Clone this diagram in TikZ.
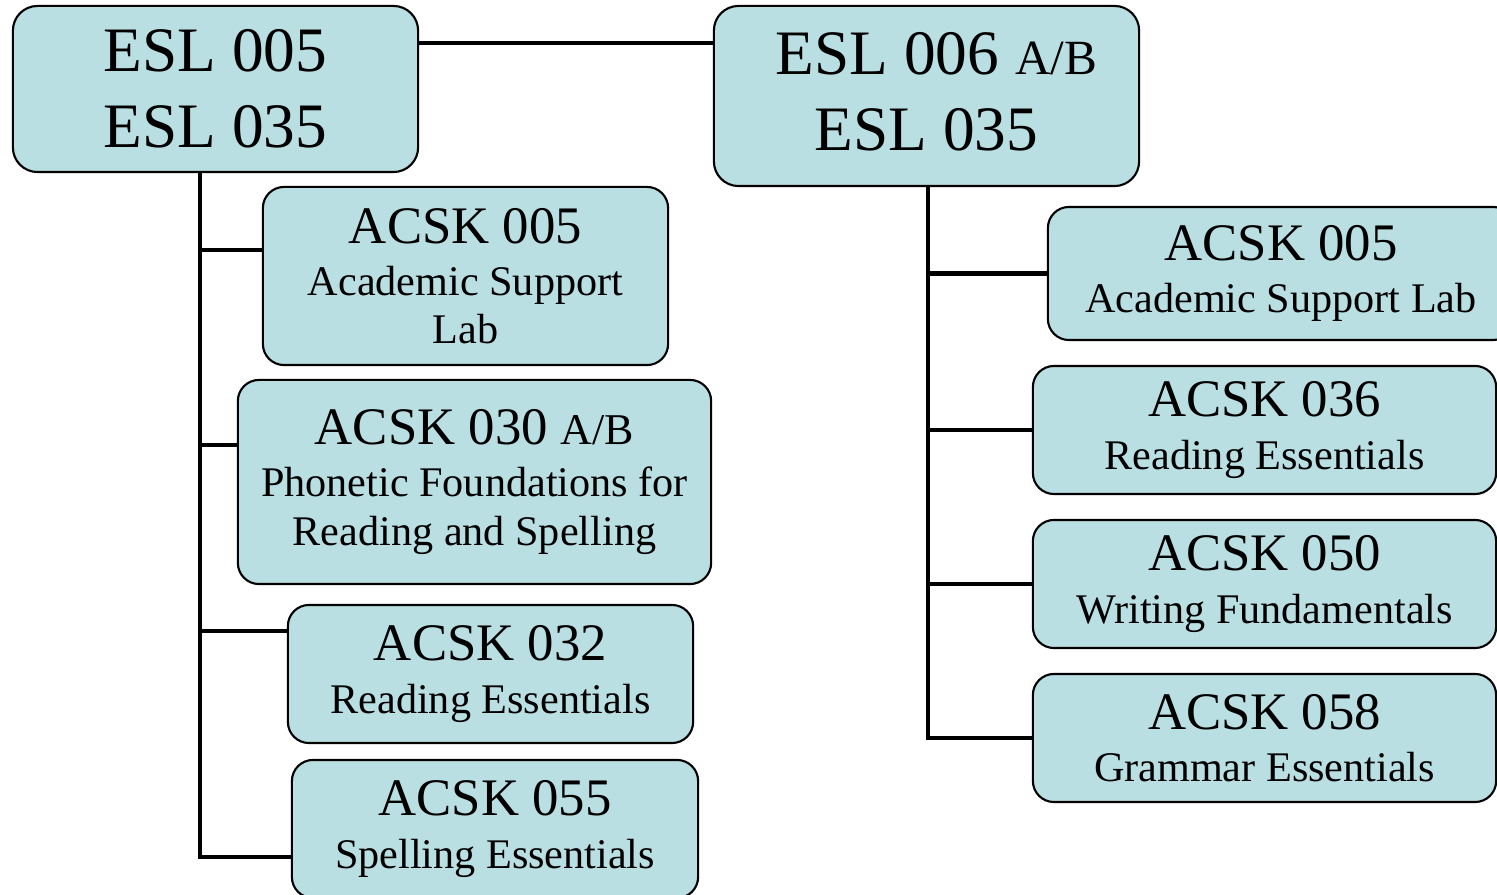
\documentclass[tikz,border=0pt]{standalone}
\usepackage{fontspec}
\setmainfont{Liberation Serif}

\definecolor{boxfill}{RGB}{185,223,227}
\newcommand{\eslfont}{\fontsize{18}{21.6}\selectfont}
\newcommand{\codefont}{\fontsize{15}{15}\selectfont}
\newcommand{\descfont}{\fontsize{12}{13.8}\selectfont}
\newcommand{\absize}[1]{{\fontsize{#1}{#1}\selectfont A/B}}

\begin{document}
\begin{tikzpicture}[x=0.01cm, y=-0.01cm]

\tikzstyle{course} = [draw, line width=0.6pt, fill=boxfill, rounded corners=6pt, align=center, inner sep=0pt, font=\descfont]
\tikzstyle{esl} = [course, rounded corners=7pt, font=\eslfont]
\tikzstyle{link} = [line width=1.4pt]

\clip (0, 0) rectangle (1497, 895);

% --- ESL 课程
\node[esl, minimum width=4.05cm, minimum height=1.66cm] (esl_a) at (215.5, 89) {ESL 005\\ESL 035};
\node[esl, minimum width=4.25cm, minimum height=1.80cm, text depth=2.6pt] (esl_b) at (926.5, 96) {\hspace*{0.2cm}ESL 006 \absize{14}\\ESL 035};

% --- 左侧 ACSK
\node[course, minimum width=4.05cm, minimum height=1.78cm] (acsk005_l) at (465.5, 276) {{\codefont ACSK 005}\\[1pt]Academic Support\\Lab};
\node[course, minimum width=4.73cm, minimum height=2.04cm] (acsk030) at (474.5, 482) {{\codefont ACSK 030 \absize{12.5}}\\[1pt]Phonetic Foundations for\\Reading and Spelling};
\node[course, minimum width=4.05cm, minimum height=1.38cm] (acsk032) at (490.5, 674) {{\codefont ACSK 032}\\[1pt]Reading Essentials};
\node[course, minimum width=4.06cm, minimum height=1.38cm] (acsk055) at (495, 829) {{\codefont ACSK 055}\\[1pt]Spelling Essentials};

% --- 右侧 ACSK
\node[course, minimum width=4.66cm, minimum height=1.33cm] (acsk005_r) at (1281, 273.5) {{\codefont ACSK 005}\\[1pt]Academic Support Lab};
\node[course, minimum width=4.63cm, minimum height=1.28cm] (acsk036) at (1264.5, 430) {{\codefont ACSK 036}\\[1pt]Reading Essentials};
\node[course, minimum width=4.63cm, minimum height=1.28cm] (acsk050) at (1264.5, 584) {{\codefont ACSK 050}\\[1pt]Writing Fundamentals};
\node[course, minimum width=4.63cm, minimum height=1.28cm] (acsk058) at (1264.5, 738) {{\codefont ACSK 058}\\[1pt]Grammar Essentials};

% --- 顶部连线
\coordinate (top_join) at (566, 43);
\draw[link] (esl_a.east |- top_join) -- (esl_b.west |- top_join);

% --- 左侧主干
\coordinate (l_end) at (200, 857);
\coordinate (l_005) at (200, 250);
\coordinate (l_030) at (200, 445);
\coordinate (l_032) at (200, 631);

\draw[link] (esl_a.south -| l_end) -- (l_end) -- (acsk055.west |- l_end);
\draw[link] (l_005) -- (acsk005_l.west |- l_005);
\draw[link] (l_030) -- (acsk030.west |- l_030);
\draw[link] (l_032) -- (acsk032.west |- l_032);

% --- 右侧主干
\coordinate (r_end) at (928, 738);

\draw[link] (esl_b.south -| r_end) -- (r_end) -- (acsk058.west);
\draw[link] (r_end |- acsk005_r.west) -- (acsk005_r.west);
\draw[link] (r_end |- acsk036.west) -- (acsk036.west);
\draw[link] (r_end |- acsk050.west) -- (acsk050.west);

\end{tikzpicture}
\end{document}
